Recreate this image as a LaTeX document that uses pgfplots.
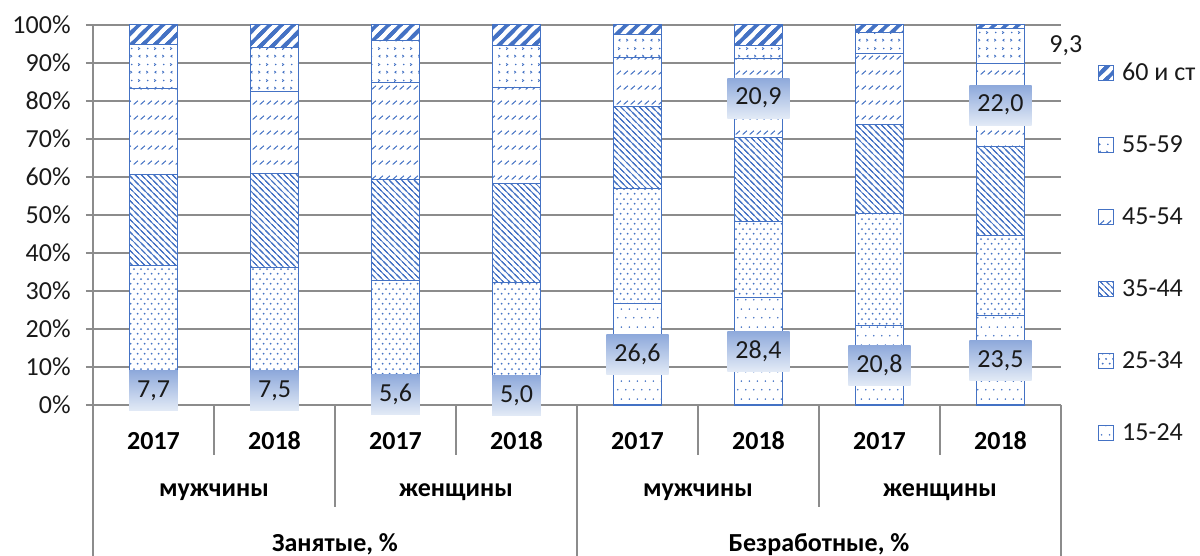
\documentclass[border=0pt]{standalone}
\usepackage{fontspec}
\setmainfont{Carlito}
\usepackage{pgfplots}
\pgfplotsset{compat=1.18}
\usetikzlibrary{patterns}
\definecolor{barblue}{HTML}{4472C4}
\definecolor{gridgray}{HTML}{8C8C8C}
\definecolor{lbltop}{HTML}{8EA9DB}
\definecolor{lblbot}{HTML}{E2EAF6}
\definecolor{txt}{HTML}{1A1A1A}

\pgfdeclarepatternformonly{sparsedots}{\pgfpointorigin}{\pgfpoint{4pt}{9pt}}{\pgfpoint{4pt}{9pt}}%
  {\pgfpathcircle{\pgfpoint{1pt}{2.25pt}}{0.45pt}\pgfpathcircle{\pgfpoint{3pt}{6.75pt}}{0.45pt}\pgfusepath{fill}}
\pgfdeclarepatternformonly{densedots}{\pgfpointorigin}{\pgfpoint{3.4pt}{5pt}}{\pgfpoint{3.4pt}{5pt}}%
  {\pgfpathcircle{\pgfpoint{0.85pt}{1.25pt}}{0.55pt}\pgfpathcircle{\pgfpoint{2.55pt}{3.75pt}}{0.55pt}\pgfusepath{fill}}
\pgfdeclarepatternformonly{darkdown}{\pgfpoint{-1pt}{-1pt}}{\pgfpoint{4.11pt}{4.11pt}}{\pgfpoint{3.11pt}{3.11pt}}%
  {\pgfsetlinewidth{0.42pt}%
   \pgfpathmoveto{\pgfpoint{-1pt}{4.11pt}}\pgfpathlineto{\pgfpoint{4.11pt}{-1pt}}%
   \pgfpathmoveto{\pgfpoint{-1pt}{1pt}}\pgfpathlineto{\pgfpoint{1pt}{-1pt}}%
   \pgfpathmoveto{\pgfpoint{2.11pt}{4.11pt}}\pgfpathlineto{\pgfpoint{4.11pt}{2.11pt}}%
   \pgfusepath{stroke}}
\pgfdeclarepatternformonly{wideup}{\pgfpoint{-2pt}{-2pt}}{\pgfpoint{7.94pt}{7.94pt}}{\pgfpoint{5.94pt}{5.94pt}}%
  {\pgfsetlinewidth{1.8pt}%
   \pgfpathmoveto{\pgfpoint{-2pt}{-2pt}}\pgfpathlineto{\pgfpoint{7.94pt}{7.94pt}}%
   \pgfpathmoveto{\pgfpoint{-2pt}{3.94pt}}\pgfpathlineto{\pgfpoint{2pt}{7.94pt}}%
   \pgfpathmoveto{\pgfpoint{3.94pt}{-2pt}}\pgfpathlineto{\pgfpoint{7.94pt}{2pt}}%
   \pgfusepath{stroke}}
\pgfdeclarepatternformonly{dashdiag}{\pgfpointorigin}{\pgfpoint{3.5pt}{7.5pt}}{\pgfpoint{3.5pt}{7.5pt}}%
  {\pgfsetlinewidth{0.55pt}\pgfpathmoveto{\pgfpoint{0.4pt}{0.8pt}}\pgfpathlineto{\pgfpoint{2.8pt}{2.8pt}}\pgfusepath{stroke}}
\pgfdeclarepatternformonly{confetti}{\pgfpointorigin}{\pgfpoint{8pt}{8pt}}{\pgfpoint{8pt}{8pt}}%
  {\pgfsetlinewidth{0.45pt}%
   \pgfpathmoveto{\pgfpoint{1.2pt}{1.4pt}}\pgfpathlineto{\pgfpoint{2pt}{2pt}}\pgfpathlineto{\pgfpoint{1.2pt}{2.6pt}}%
   \pgfpathmoveto{\pgfpoint{6.6pt}{1.4pt}}\pgfpathlineto{\pgfpoint{5.8pt}{2pt}}\pgfpathlineto{\pgfpoint{6.6pt}{2.6pt}}%
   \pgfpathmoveto{\pgfpoint{5.4pt}{5.4pt}}\pgfpathlineto{\pgfpoint{6.2pt}{6pt}}\pgfpathlineto{\pgfpoint{5.4pt}{6.6pt}}%
   \pgfusepath{stroke}%
   \pgfpathcircle{\pgfpoint{2pt}{6pt}}{0.45pt}\pgfusepath{fill}}

\pgfplotsset{
  sqleg/.style={legend image code/.code={\draw[##1,line width=0.5pt] (0pt,-3.75pt) rectangle (7.5pt,3.75pt);}},
  seg/.style={fill=white, draw=barblue, line width=0.5pt, postaction={pattern=#1, pattern color=barblue}, sqleg},
}
\tikzset{
  lblbox/.style={font=\fontsize{13pt}{15pt}\selectfont, text=txt, top color=lbltop, bottom color=lblbot, draw=none, inner xsep=4pt, inner ysep=0pt, minimum height=20pt, anchor=center},
  catsep/.style={draw=gridgray, line width=1pt},
  catlbl/.style={font=\fontsize{13pt}{15pt}\selectfont\bfseries, anchor=base, text=black},
}

\begin{document}
\begin{tikzpicture}[font=\fontsize{13pt}{15pt}\selectfont]
\path[use as bounding box] (-46.5pt,-75.5pt) rectangle (553.5pt,202.5pt);
\begin{axis}[
  at={(0pt,0pt)}, anchor=south west,
  width=484pt, height=190pt, scale only axis,
  ybar stacked, bar width=24pt,
  xmin=-0.5, xmax=7.5, ymin=0, ymax=100,
  clip=false,
  axis x line*=bottom, axis y line*=left,
  axis line style={draw=gridgray, line width=1pt},
  ymajorgrids, major grid style={draw=gridgray, line width=1pt},
  ytick={0,10,...,100},
  yticklabels={0\%,10\%,20\%,30\%,40\%,50\%,60\%,70\%,80\%,90\%,100\%},
  ytick style={draw=gridgray, line width=1pt},
  tick align=outside, major tick length=3.5pt,
  yticklabel style={anchor=east, inner sep=0pt, xshift=-7.5pt, text=txt},
  xtick={0,...,7},
  xticklabels={2017,2018,2017,2018,2017,2018,2017,2018},
  xtick style={draw=none},
  xticklabel style={anchor=base, yshift=-18.5pt, font=\fontsize{13pt}{15pt}\selectfont\bfseries, text=black},
  reverse legend,
  legend cell align=left,
  legend style={draw=none, fill=none, at={(1.038,1.158)}, anchor=north west, inner sep=0pt,
    row sep=0pt, column sep=2pt, text=txt,
    nodes={inner sep=2pt, text height=9pt, text depth=2pt, minimum height=36pt}},
]
\addplot[seg=sparsedots] coordinates {(0,7.7) (1,7.5) (2,5.6) (3,5.0) (4,26.6) (5,28.4) (6,20.8) (7,23.5)};
\addplot[seg=densedots] coordinates {(0,29.0) (1,28.8) (2,27.2) (3,27.2) (4,30.5) (5,19.9) (6,29.6) (7,21.1)};
\addplot[seg=darkdown] coordinates {(0,23.9) (1,24.6) (2,26.6) (3,26.1) (4,21.5) (5,22.0) (6,23.4) (7,23.3)};
\addplot[seg=dashdiag] coordinates {(0,22.7) (1,21.5) (2,25.5) (3,25.3) (4,12.8) (5,20.9) (6,18.7) (7,22.0)};
\addplot[seg=confetti] coordinates {(0,11.6) (1,11.6) (2,11.1) (3,11.1) (4,6.0) (5,3.5) (6,5.6) (7,9.3)};
\addplot[seg=wideup] coordinates {(0,5.1) (1,6.0) (2,4.0) (3,5.3) (4,2.6) (5,5.3) (6,1.9) (7,0.8)};
\addlegendimage{empty legend}
\legend{15-24,25-34,35-44,45-54,55-59,60 и ст,\phantom{0}}

\draw[catsep] (axis cs:0.5,0) -- (axis cs:0.5,-13.16);
\draw[catsep] (axis cs:2.5,0) -- (axis cs:2.5,-13.16);
\draw[catsep] (axis cs:4.5,0) -- (axis cs:4.5,-13.16);
\draw[catsep] (axis cs:6.5,0) -- (axis cs:6.5,-13.16);
\draw[catsep] (axis cs:1.5,0) -- (axis cs:1.5,-26.84);
\draw[catsep] (axis cs:5.5,0) -- (axis cs:5.5,-26.84);
\draw[catsep] (axis cs:-0.5,0) -- (axis cs:-0.5,-42);
\draw[catsep] (axis cs:3.5,0) -- (axis cs:3.5,-42);
\draw[catsep] (axis cs:7.5,0) -- (axis cs:7.5,-42);
\node[catlbl] at (axis cs:0.5,-24.2) {мужчины};
\node[catlbl] at (axis cs:2.5,-24.2) {женщины};
\node[catlbl] at (axis cs:4.5,-24.2) {мужчины};
\node[catlbl] at (axis cs:6.5,-24.2) {женщины};
\node[catlbl] at (axis cs:1.5,-38.68) {Занятые, \%};
\node[catlbl] at (axis cs:5.5,-38.68) {Безработные, \%};
\end{axis}

\begin{axis}[
  at={(0pt,0pt)}, anchor=south west,
  width=484pt, height=190pt, scale only axis,
  xmin=-0.5, xmax=7.5, ymin=0, ymax=100,
  hide axis, clip=false,
]
\addplot[draw=none, mark=none, nodes near coords, point meta=explicit symbolic,
  nodes near coords align=center, every node near coord/.style={lblbox}]
  coordinates {(0,3.85)[7,7] (1,3.75)[7,5] (2,2.8)[5,6] (3,2.5)[5,0]
               (4,13.3)[26,6] (5,14.2)[28,4] (6,10.4)[20,8] (7,11.75)[23,5]
               (5,80.75)[20,9] (7,78.9)[22,0]};
\addplot[draw=none, mark=none, nodes near coords, point meta=explicit symbolic,
  nodes near coords align=center, every node near coord/.style={font=\fontsize{13pt}{15pt}\selectfont, text=txt, inner sep=0pt, anchor=center}]
  coordinates {(7.54,94.55)[9,3]};
\end{axis}
\end{tikzpicture}
\end{document}
